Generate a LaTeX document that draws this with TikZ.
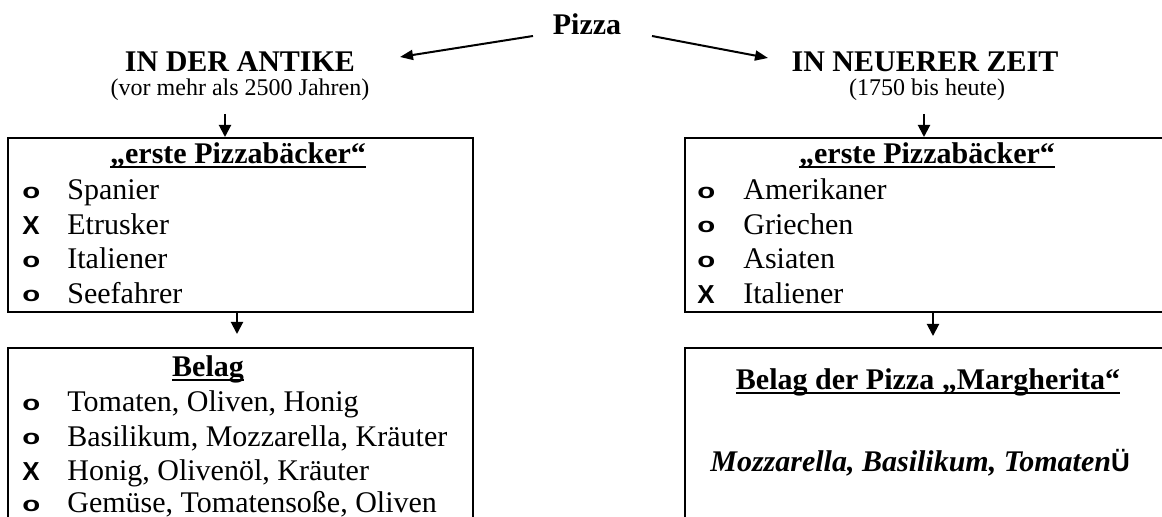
\documentclass[tikz,border=0pt]{standalone}
\usepackage{fontspec}
\usepackage{graphicx}
\setmainfont{Liberation Serif}
\newfontfamily\symsans{Liberation Sans}
\usetikzlibrary{arrows.meta}

\newcommand\fmain{\fontsize{15pt}{18pt}\selectfont}
\newcommand\fsub{\fontsize{12pt}{14pt}\selectfont}
\newcommand\fbul{\fontsize{13pt}{15pt}\selectfont\symsans\bfseries}
\newcommand\fcheck{\fontsize{13pt}{15pt}\selectfont\symsans\bfseries}
\newcommand\myul[1]{\setbox0\hbox{#1}\rlap{\rule[-2pt]{\wd0}{1.2pt}}\box0}
\newcommand\circb{\raisebox{0.8pt}{\fontsize{14pt}{16pt}\selectfont\scalebox{1.05}[0.75]{o}}}
\newcommand\crossb{X}

\tikzset{
  txt/.style={anchor=base, inner sep=0pt, font=\fmain},
  lbl/.style={anchor=base west, inner sep=0pt, font=\fmain},
  bul/.style={anchor=base west, inner sep=0pt, font=\fbul},
  boxst/.style={draw, line width=1pt, rectangle, inner sep=0pt},
  arr/.style={line width=1pt, -{Triangle[length=6pt,width=6pt]}},
  parr/.style={line width=1pt, -{Triangle[length=6.5pt,width=5pt]}},
}

\begin{document}
\begin{tikzpicture}[x=0.5pt,y=-0.5pt]
\useasboundingbox (0,0) rectangle (1162,517);
\clip (0,0) rectangle (1162,517);
\fill[white] (0,0) rectangle (1162,517);

% headings
\node[txt, font=\fmain\bfseries] (pizza) at (587,35) {Pizza};
\node[txt, font=\fmain\bfseries] (antike) at (240,72) {IN DER ANTIKE};
\node[txt, font=\fsub] (antikesub) at (240,96) {(vor mehr als 2500 Jahren)};
\node[txt, font=\fmain\bfseries] (neu) at (925,72) {IN NEUERER ZEIT};
\node[txt, font=\fsub] (neusub) at (927,96) {(1750 bis heute)};

% pizza arrows
\coordinate (pl) at (533,36);
\coordinate (plt) at (400,57);
\coordinate (pr) at (652,36);
\coordinate (prt) at (768,58);
\draw[parr] (pl) -- (plt);
\draw[parr] (pr) -- (prt);

% boxes
\node[boxst, minimum width=232.5pt, minimum height=87pt] (bl1) at (240,225) {};
\node[boxst, minimum width=245pt, minimum height=87pt] (br1) at (930,225) {};
\node[boxst, minimum width=232.5pt, minimum height=96pt] (bl2) at (240,444) {};
\node[boxst, minimum width=245pt, minimum height=96pt] (br2) at (930,444) {};

% arrows to boxes
\coordinate (a1s) at (225,114);
\coordinate (b1s) at (924,114);
\draw[arr] (a1s) -- (a1s |- bl1.north);
\draw[arr] (b1s) -- (b1s |- br1.north);
\coordinate (a2e) at (237,334);
\coordinate (b2e) at (933,336);
\draw[arr] (a2e |- bl1.south) -- (a2e);
\draw[arr] (b2e |- br1.south) -- (b2e);

% titles
\node[txt, font=\fmain\bfseries] (tl1) at (238,164) {\myul{„erste Pizzabäcker“}};
\node[txt, font=\fmain\bfseries] (tr1) at (927,164) {\myul{„erste Pizzabäcker“}};
\node[txt, font=\fmain\bfseries] (tl2) at (208,377) {\myul{Belag}};
\node[txt, font=\fmain\bfseries] (tr2) at (928,390) {\myul{Belag der Pizza „Margherita“}};

% left box 1
\node[bul] (l1m1) at (22,200) {\circb};
\node[lbl] (l1t1) at (67,200) {Spanier};
\node[bul] (l1m2) at (22,234.5) {\crossb};
\node[lbl] (l1t2) at (67,234.5) {Etrusker};
\node[bul] (l1m3) at (22,269) {\circb};
\node[lbl] (l1t3) at (67,269) {Italiener};
\node[bul] (l1m4) at (22,303.5) {\circb};
\node[lbl] (l1t4) at (67,303.5) {Seefahrer};

% right box 1
\node[bul] (r1m1) at (697,200) {\circb};
\node[lbl] (r1t1) at (743,200) {Amerikaner};
\node[bul] (r1m2) at (697,234.5) {\circb};
\node[lbl] (r1t2) at (743,234.5) {Griechen};
\node[bul] (r1m3) at (697,269) {\circb};
\node[lbl] (r1t3) at (743,269) {Asiaten};
\node[bul] (r1m4) at (697,303.5) {\crossb};
\node[lbl] (r1t4) at (743,303.5) {Italiener};

% left box 2
\node[bul] (l2m1) at (22,412) {\circb};
\node[lbl] (l2t1) at (67,412) {Tomaten, Oliven, Honig};
\node[bul] (l2m2) at (22,446.5) {\circb};
\node[lbl] (l2t2) at (67,446.5) {Basilikum, Mozzarella, Kräuter};
\node[bul] (l2m3) at (22,481) {\crossb};
\node[lbl] (l2t3) at (67,481) {Honig, Olivenöl, Kräuter};
\node[bul] (l2m4) at (22,513) {\circb};
\node[lbl] (l2t4) at (67,513) {Gemüse, Tomatensoße, Oliven};

% right box 2
\node[lbl] (r2t1) at (710,472) {{\bfseries\itshape Mozzarella, Basilikum, Tomaten}{\fcheck Ü}};
\end{tikzpicture}
\end{document}
